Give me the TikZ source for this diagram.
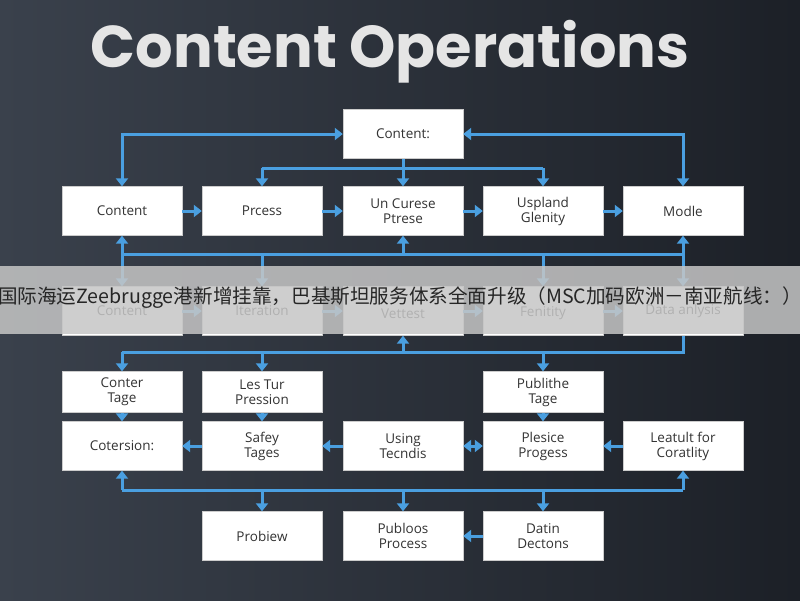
\documentclass[tikz,border=0pt]{standalone}
\usepackage{fontspec}
\setmainfont{Open Sans}
\newfontfamily\titlef{Poppins}
\newfontfamily\cjk{Noto Sans CJK SC}
\usetikzlibrary{arrows.meta}
\definecolor{arr}{HTML}{4A9FE0}
\definecolor{txt}{HTML}{333333}
\definecolor{bgl}{HTML}{3A414C}
\definecolor{bgr}{HTML}{1C2027}
\begin{document}
\begin{tikzpicture}[x=1pt,y=-1pt,
  box/.style={draw=gray!40,fill=white,minimum width=120pt,minimum height=#1,inner sep=0pt,align=center,font=\fontsize{13.5}{15}\selectfont,text=txt},
  box/.default=49pt,
  ar/.style={draw=arr,line width=3pt,-{Triangle[length=8pt,width=12pt]}},
  ln/.style={draw=arr,line width=3pt},
  ab/.style={draw=arr,line width=3pt,{Triangle[length=8pt,width=12pt]}-{Triangle[length=8pt,width=12pt]}}]
\shade[left color=bgl, right color=bgr] (0,0) rectangle (800,600);
\useasboundingbox (0,0) rectangle (800,600);
\node[text=white!90!black,font=\titlef\bfseries\fontsize{59}{64}\selectfont] (title) at (390,52) {Content Operations};
% nodes
\node[box] (top) at (403,134) {Content:};
\node[box] (a1) at (122,211) {Content};
\node[box] (a2) at (262,211) {Prcess};
\node[box] (a3) at (403,211) {Un Curese\\Ptrese};
\node[box] (a4) at (543,211) {Uspland\\Glenity};
\node[box] (a5) at (683,211) {Modle};
\node[box] (b1) at (122,311) {Content};
\node[box] (b2) at (262,311) {Iteration};
\node[box] (b3) at (403,311) {\\Vettest};
\node[box] (b4) at (543,311) {\\Fenitity};
\node[box] (b5) at (683,311) {Data anlysis};
\node[box=41pt] (c1) at (122,392) {Conter\\Tage};
\node[box=41pt] (c2) at (262,392) {Les Tur\\Pression};
\node[box=41pt] (c4) at (543,392) {Publithe\\Tage};
\node[box] (d1) at (122,446) {Cotersion:};
\node[box] (d2) at (262,446) {Safey\\Tages};
\node[box] (d3) at (403,446) {Using\\Tecndis};
\node[box] (d4) at (543,446) {Plesice\\Progess};
\node[box] (d5) at (683,446) {Leatult for\\Coratlity};
\node[box] (e2) at (262,536) {Probiew};
\node[box] (e3) at (403,536) {Publoos\\Process};
\node[box] (e4) at (543,536) {Datin\\Dectons};
% coordinates
\coordinate (j1) at (262,168);
\coordinate (j2) at (543,168);
\coordinate (m1) at (122,254);
\coordinate (m2) at (683,254);
\coordinate (m3) at (403,254);
\coordinate (n1) at (122,352);
\coordinate (n2) at (683,352);
\coordinate (n3) at (403,352);
\coordinate (p1) at (122,490);
\coordinate (p2) at (683,490);
\coordinate (p3) at (403,490);
% top
\draw[ab] (a1.north) |- (top.west);
\draw[ab] (a5.north) |- (top.east);
\draw[ar] (top.south) -- (a3.north);
\draw[ln] (j1) -- (j2);
\draw[ar] (j1) -- (a2.north);
\draw[ar] (j2) -- (a4.north);
\foreach \u/\v in {a1/a2,a2/a3,a3/a4,a4/a5,b1/b2,b2/b3,b3/b4,b4/b5}{\draw[ar] (\u.east) -- (\v.west);}
% row1 bottom
\draw[ln] (m1) -- (m2);
\draw[ar] (m1) -- (a1.south);
\draw[ar] (m2) -- (a5.south);
\draw[ar] (m3) -- (a3.south);
\foreach \x/\b in {122/b1,262/b2,543/b4,683/b5}{\draw[ar] (\x,254) -- (\b.north);}
% row3 bottom
\draw[ln] (n1) -- (n2) -- (b5.south);
\draw[ar] (n3) -- (b3.south);
\draw[ar] (n1) -- (c1.north);
\draw[ar] (262,352) -- (c2.north);
\draw[ar] (543,352) -- (c4.north);
\draw[ar] (c1) -- (d1);
\draw[ar] (c2) -- (d2);
\draw[ar] (c4) -- (d4);
\draw[ar] (d2.west) -- (d1.east);
\draw[ar] (d3.west) -- (d2.east);
\draw[ab] (d4.west) -- (d3.east);
\draw[ar] (d5.west) -- (d4.east);
% row5 bottom
\draw[ln] (p1) -- (p2);
\draw[ar] (p1) -- (d1.south);
\draw[ar] (p2) -- (d5.south);
\draw[ar] (262,490) -- (e2.north);
\draw[ar] (p3) -- (e3.north);
\draw[ar] (543,490) -- (e4.north);
\draw[ar] (e4.west) -- (e3.east);
% banner
\fill[gray!45,opacity=0.85] (0,266) rectangle (800,334);
\node[font=\cjk\fontsize{19.6}{21}\selectfont,text=black!85,inner sep=0pt] (ban) at (400,298) {国际海运Zeebrugge港新增挂靠，巴基斯坦服务体系全面升级（MSC加码欧洲－南亚航线：）};
\end{tikzpicture}
\end{document}
